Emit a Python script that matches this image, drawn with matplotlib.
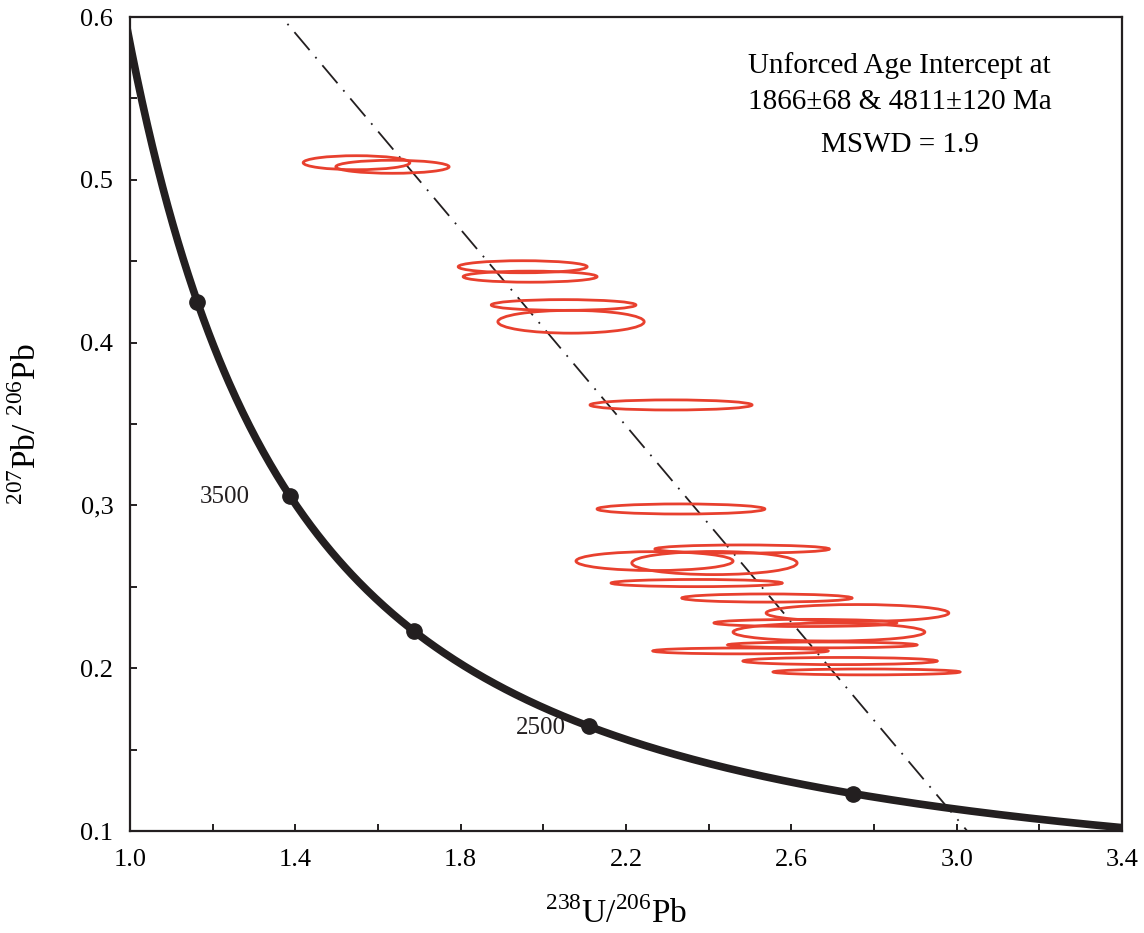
import numpy as np
import matplotlib
matplotlib.use("Agg")
import matplotlib.pyplot as plt
from matplotlib.patches import Ellipse
from matplotlib.ticker import FixedLocator, FixedFormatter, MultipleLocator

# Decay constants (per year) and present-day 238U/235U
L238 = 1.55125e-10
L235 = 9.8485e-10
U_RATIO = 137.88

# Analyses: 238U/206Pb centre, 207Pb/206Pb centre, half-axes of error ellipses
ell_x = [1.548, 1.635, 1.950, 1.968, 2.049, 2.067, 2.309, 2.333, 2.481, 2.269,
         2.414, 2.371, 2.541, 2.760, 2.634, 2.691, 2.675, 2.477, 2.718, 2.782]
ell_y = [0.5105, 0.5080, 0.4466, 0.4405, 0.4231, 0.4128, 0.3617, 0.2978, 0.2732, 0.2658,
         0.2646, 0.2523, 0.2431, 0.2339, 0.2278, 0.2222, 0.2143, 0.2106, 0.2044, 0.1977]
ell_sx = [0.129, 0.137, 0.156, 0.162, 0.175, 0.177, 0.196, 0.203, 0.211, 0.190,
          0.200, 0.207, 0.206, 0.221, 0.221, 0.232, 0.229, 0.212, 0.235, 0.226]
ell_sy = [0.0043, 0.0040, 0.0037, 0.0034, 0.0033, 0.0070, 0.0031, 0.0031, 0.0025, 0.0058,
          0.0071, 0.0022, 0.0025, 0.0052, 0.0022, 0.0055, 0.0018, 0.0018, 0.0022, 0.0018]

# Concordia age marks (Ma) and which of them carry a label
mark_ages = [4000, 3500, 3000, 2500, 2000]
label_ages = [3500, 2500]

# Discordia intercept ages (Ma)
lower_age = 1866
upper_age = 4811

x_ticks = [1.0, 1.4, 1.8, 2.2, 2.6, 3.0, 3.4]
x_ticklabels = ["1.0", "1.4", "1.8", "2.2", "2.6", "3.0", "3.4"]
y_ticks = [0.1, 0.2, 0.3, 0.4, 0.5, 0.6]
y_ticklabels = ["0.1", "0.2", "0,3", "0.4", "0.5", "0.6"]


def tw_point(age_ma):
    t = age_ma * 1e6
    e8 = np.exp(L238 * t) - 1.0
    e5 = np.exp(L235 * t) - 1.0
    return 1.0 / e8, e5 / (U_RATIO * e8)


plt.rcParams["font.family"] = ["Liberation Serif", "DejaVu Serif"]
plt.rcParams["mathtext.fontset"] = "custom"
plt.rcParams["mathtext.rm"] = "Liberation Serif"

fig = plt.figure(figsize=(11.44, 9.33), dpi=100)
ax = fig.add_axes([130 / 1144, 1 - 831 / 933, 992 / 1144, 814 / 933])
ax.set_xlim(1.0, 3.4)
ax.set_ylim(0.1, 0.6)

# Concordia curve
xs = np.linspace(0.98, 3.45, 600)
ts = np.log(1.0 + 1.0 / xs) / L238 / 1e6
cx, cy = tw_point(ts)
ax.plot(cx, cy, color="#231f20", lw=5.5, solid_capstyle="butt", zorder=3)

# Age marks on the concordia
for age in mark_ages:
    mx, my = tw_point(age)
    ax.plot([mx], [my], "o", color="#231f20", ms=11, zorder=4)
    if age in label_ages:
        off = -29 if age == 3500 else -17
        ax.annotate(str(age), (mx, my), xytext=(off, -1), textcoords="offset points",
                    ha="right", va="center", fontsize=18, color="#231f20")

# Discordia through the two intercepts
lx, ly = tw_point(np.array([lower_age, upper_age]))
slope = (ly[1] - ly[0]) / (lx[1] - lx[0])
dx = np.array([0.8, 3.2])
ax.plot(dx, ly[0] + slope * (dx - lx[0]), color="#231f20", lw=1.3,
        linestyle=(0, (13, 5, 1, 5)), zorder=2)

# Error ellipses
for x, y, sx, sy in zip(ell_x, ell_y, ell_sx, ell_sy):
    ax.add_patch(Ellipse((x, y), 2 * sx, 2 * sy, fill=False,
                         edgecolor="#e8402e", lw=2.0, zorder=5))

# Axes styling
for s in ax.spines.values():
    s.set_linewidth(1.6)
    s.set_color("#231f20")
ax.xaxis.set_major_locator(FixedLocator(x_ticks))
ax.xaxis.set_major_formatter(FixedFormatter(x_ticklabels))
ax.xaxis.set_minor_locator(MultipleLocator(0.2))
ax.yaxis.set_major_locator(FixedLocator(y_ticks))
ax.yaxis.set_major_formatter(FixedFormatter(y_ticklabels))
ax.yaxis.set_minor_locator(MultipleLocator(0.05))
ax.tick_params(which="both", direction="in", length=5, width=1.4, color="#231f20",
               labelsize=19, top=False, right=False)
ax.tick_params(axis="x", pad=13)
ax.tick_params(axis="y", pad=12)

ax.set_xlabel(r"$^{238}$U/$^{206}$Pb", fontsize=24)
ax.xaxis.set_label_coords(0.49, -0.082)
ax.set_ylabel(r"$^{207}$Pb/ $^{206}$Pb", fontsize=24)
ax.yaxis.set_label_coords(-0.088, 0.5)

ax.text(0.776, 0.9398, "Unforced Age Intercept at", transform=ax.transAxes,
        ha="center", va="center", fontsize=21)
ax.text(0.776, 0.8956, "1866\u00b168 & 4811\u00b1120 Ma", transform=ax.transAxes,
        ha="center", va="center", fontsize=21)
ax.text(0.776, 0.8428, "MSWD = 1.9", transform=ax.transAxes,
        ha="center", va="center", fontsize=21)

fig.savefig("out.png", dpi=100, facecolor="white")
